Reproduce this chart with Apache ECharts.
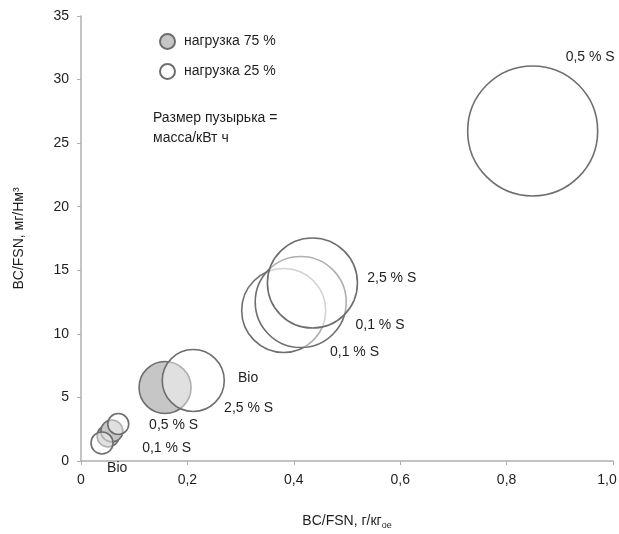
<!DOCTYPE html>
<html>
<head>
<meta charset="utf-8">
<script src="https://cdn.jsdelivr.net/npm/echarts@6/dist/echarts.min.js"></script>
<style>
  html, body { margin: 0; padding: 0; background: #fff; overflow: hidden; }
  #chart { width: 619px; height: 534px; }
</style>
</head>
<body>
<div id="chart"></div>
<script>
// [BC/FSN g/kg, BC/FSN mg/Nm3, bubble size (mass/kWh, relative)]
const load75 = [
  [0.051, 1.97, 2.2],
  [0.058, 2.36, 2.2],
  [0.158, 5.78, 5.2]
];
const load25 = [
  [0.0395, 1.42, 2.2],
  [0.070, 2.91, 2.1],
  [0.211, 6.33, 6.2],
  [0.381, 11.84, 8.4],
  [0.413, 12.50, 9.1],
  [0.435, 14.00, 9.0],
  [0.849, 25.96, 13.0]
];
// annotation texts and their anchor (left edge) in data units
const annotTexts = ['0,5 % S', '2,5 % S', '0,1 % S', '0,1 % S', 'Bio', '2,5 % S', '0,5 % S', '0,1 % S', 'Bio'];
const annotX = [0.911, 0.538, 0.516, 0.468, 0.295, 0.269, 0.128, 0.115, 0.049];
const annotY = [31.75, 14.4, 10.7, 8.58, 6.53, 4.17, 2.83, 1.02, -0.55];
const xTicks = [0, 0.2, 0.4, 0.6, 0.8, 1.0];
const yTicks = [0, 5, 10, 15, 20, 25, 30, 35];
const seriesNames = ['нагрузка 75 %', 'нагрузка 25 %'];

const FONT = '"Liberation Sans", Arial, sans-serif';
const TXT = '#1e1e1e';
const chart = echarts.init(document.getElementById('chart'));
const sizeScale = 10;

chart.setOption({
  animation: false,
  backgroundColor: '#fff',
  textStyle: { fontFamily: FONT },
  grid: { left: 81, right: 6, top: 16, bottom: 73, containLabel: false, outerBoundsMode: 'none' },
  legend: {
    orient: 'vertical', left: 154, top: 28,
    itemWidth: 15, itemHeight: 15, itemGap: 13,
    data: seriesNames,
    textStyle: { fontFamily: FONT, fontSize: 14, color: TXT, padding: [0, 0, 0, 4] }
  },
  graphic: [{
    type: 'text', left: 153, top: 108,
    style: { text: 'Размер пузырька =\nмасса/кВт ч', font: '14px ' + FONT, fill: TXT, lineHeight: 20 }
  }],
  xAxis: {
    type: 'value', min: xTicks[0], max: xTicks[xTicks.length - 1], interval: 0.2,
    name: 'BC/FSN, г/кг{sub|oe}', nameLocation: 'middle', nameGap: 52,
    nameTextStyle: {
      fontSize: 14, color: TXT, fontFamily: FONT,
      rich: { sub: { fontSize: 9, color: TXT, fontFamily: FONT, verticalAlign: 'bottom', padding: [8, 0, 0, 0] } }
    },
    axisLine: { show: true, lineStyle: { color: '#b0b0b0', width: 1.5 } },
    axisTick: { show: true, length: 4, lineStyle: { color: '#b0b0b0' } },
    splitLine: { show: false },
    axisLabel: {
      fontSize: 14, color: TXT, fontFamily: FONT, margin: 12,
      formatter: v => {
        if (v === 0) return '0';
        const s = v.toFixed(1).replace('.', ',');
        return v === xTicks[xTicks.length - 1] ? '{last|' + s + '}' : s;
      },
      rich: { last: { fontSize: 14, color: TXT, fontFamily: FONT, padding: [0, 12, 0, 0] } }
    }
  },
  yAxis: {
    type: 'value', min: yTicks[0], max: yTicks[yTicks.length - 1], interval: 5,
    name: 'BC/FSN, мг/Нм³', nameLocation: 'middle', nameGap: 55, nameRotate: 90,
    nameTextStyle: { fontSize: 14, color: TXT, fontFamily: FONT },
    axisLine: { show: true, lineStyle: { color: '#b0b0b0', width: 1.5 } },
    axisTick: { show: true, length: 4, lineStyle: { color: '#b0b0b0' } },
    splitLine: { show: false },
    axisLabel: { fontSize: 14, color: TXT, fontFamily: FONT, margin: 12 }
  },
  series: [
    {
      name: seriesNames[0], type: 'scatter', data: load75,
      symbolSize: d => d[2] * sizeScale,
      itemStyle: { color: '#c6c6c6', borderColor: '#6e6e6e', borderWidth: 1.6, opacity: 1 },
      z: 2
    },
    {
      name: seriesNames[1], type: 'scatter', data: load25,
      symbolSize: d => d[2] * sizeScale,
      itemStyle: { color: 'rgba(255,255,255,0.45)', borderColor: '#6e6e6e', borderWidth: 1.6, opacity: 1 },
      z: 3
    },
    {
      type: 'scatter', silent: true, clip: false, symbolSize: 0,
      itemStyle: { opacity: 1 },
      data: annotTexts.map((t, i) => ({ name: t, value: [annotX[i], annotY[i]] })),
      label: {
        show: true, position: 'right', distance: 0, opacity: 1,
        formatter: p => p.name, fontSize: 14, color: TXT, fontFamily: FONT
      },
      z: 5
    }
  ]
});
</script>
</body>
</html>
